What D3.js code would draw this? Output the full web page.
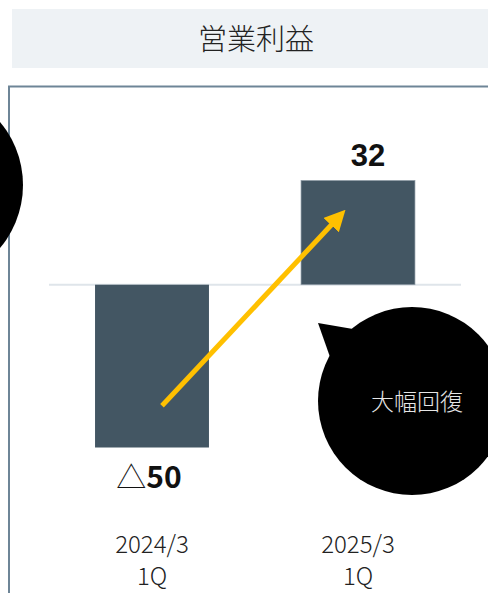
<!DOCTYPE html>
<html>
<head>
<meta charset="utf-8">
<script src="https://cdn.jsdelivr.net/npm/d3@7"></script>
<style>
  html, body { margin: 0; padding: 0; background: #fff; }
  svg { display: block; }
</style>
</head>
<body>
<div class="chart"></div>
<script>
// chart values
const title = "営業利益";
const categories = ["2024/3", "2025/3"];
const subLabels = ["1Q", "1Q"];
const values = [-50, 32];
const valueLabels = ["△50", "32"];
const bubbleText = "大幅回復";

const width = 488, height = 593;
const font = "'Noto Sans CJK JP', 'Noto Sans', sans-serif";
const numFont = "'Liberation Sans', Arial, sans-serif";

const svg = d3.select(".chart").append("svg")
  .attr("width", width)
  .attr("height", height);

// title band
svg.append("rect")
  .attr("x", 12).attr("y", 9)
  .attr("width", width).attr("height", 59)
  .attr("fill", "#eef2f5");
svg.append("text")
  .attr("x", 256).attr("y", 50)
  .attr("text-anchor", "middle")
  .attr("font-family", font)
  .attr("font-weight", 300)
  .attr("font-size", 29)
  .attr("fill", "#222")
  .text(title);

// frame
svg.append("path")
  .attr("d", "M9," + (height + 5) + "V86.5H" + (width + 5))
  .attr("fill", "none")
  .attr("stroke", "#6e8597")
  .attr("stroke-width", 2);

// scales
const x = d3.scaleBand()
  .domain(categories)
  .range([49, 461])
  .paddingInner(0.447)
  .paddingOuter(0.2235);

const y = d3.scaleLinear()
  .domain([-50, 32])
  .range([447.5, 180.5]);

// black circle on the left edge
svg.append("circle")
  .attr("cx", -75).attr("cy", 185).attr("r", 98)
  .attr("fill", "#000");

// zero line
svg.append("line")
  .attr("x1", 49).attr("x2", 461)
  .attr("y1", y(0)).attr("y2", y(0))
  .attr("stroke", "#dfe5ea")
  .attr("stroke-width", 2);

// bars
svg.selectAll("rect.bar")
  .data(values)
  .join("rect")
  .attr("class", "bar")
  .attr("x", (d, i) => x(categories[i]))
  .attr("width", x.bandwidth())
  .attr("y", d => y(Math.max(0, d)))
  .attr("height", d => Math.abs(y(d) - y(0)))
  .attr("fill", "#435663")
  .attr("stroke", (d, i) => i === 1 ? "#8e9ba5" : "none")
  .attr("stroke-width", 0.7);

// value labels
svg.selectAll("text.val")
  .data(values)
  .join("text")
  .attr("class", "val")
  .attr("x", (d, i) => x(categories[i]) + x.bandwidth() / 2 + (d < 0 ? -3 : 10))
  .attr("y", d => d < 0 ? y(d) + 40 : y(d) - 15)
  .attr("text-anchor", "middle")
  .attr("font-family", numFont)
  .attr("font-weight", 700)
  .attr("font-size", 31)
  .attr("fill", "#111")
  .each(function (d, i) {
    const t = d3.select(this);
    const lbl = valueLabels[i];
    if (lbl.startsWith("△")) {
      t.attr("font-size", 30);
      t.append("tspan").attr("font-family", font).attr("font-weight", 300).text("△");
      t.append("tspan").attr("font-family", font).text(lbl.slice(1));
    } else {
      t.text(lbl);
    }
  });

// category labels
const cat = svg.selectAll("g.cat")
  .data(categories)
  .join("g")
  .attr("class", "cat")
  .attr("transform", d => "translate(" + (x(d) + x.bandwidth() / 2) + ",0)");
cat.append("text")
  .attr("y", 553)
  .attr("text-anchor", "middle")
  .attr("font-family", font)
  .attr("font-weight", 300)
  .attr("font-size", 24)
  .attr("fill", "#222")
  .text(d => d);
cat.append("text")
  .attr("y", 585)
  .attr("text-anchor", "middle")
  .attr("font-family", font)
  .attr("font-weight", 300)
  .attr("font-size", 24)
  .attr("fill", "#222")
  .text((d, i) => subLabels[i]);

// arrow from first bar into second bar
const defs = svg.append("defs");
defs.append("marker")
  .attr("id", "head")
  .attr("viewBox", "0 0 10 10")
  .attr("refX", 5).attr("refY", 5)
  .attr("markerWidth", 4.2).attr("markerHeight", 4.2)
  .attr("orient", "auto")
  .append("path")
  .attr("d", "M0,0L10,5L0,10Z")
  .attr("fill", "#ffc000");

const x0 = x(categories[0]) + x.bandwidth() / 2 + 10;
const x1 = x(categories[1]) + x.bandwidth() * 0.38;
svg.append("line")
  .attr("x1", x0).attr("y1", y(-37.2))
  .attr("x2", x1 - 6).attr("y2", y(22.5) + 6)
  .attr("stroke", "#ffc000")
  .attr("stroke-width", 5)
  .attr("marker-end", "url(#head)");

// speech bubble
const bx = 412, by = 401, br = 94;
svg.append("path")
  .attr("d", "M353,329L318,323L330,357Z")
  .attr("fill", "#000");
svg.append("circle")
  .attr("cx", bx).attr("cy", by).attr("r", br)
  .attr("fill", "#000");
svg.append("text")
  .attr("x", 417).attr("y", 410)
  .attr("text-anchor", "middle")
  .attr("font-family", font)
  .attr("font-weight", 300)
  .attr("font-size", 23)
  .attr("fill", "#e6e6e6")
  .text(bubbleText);
</script>
</body>
</html>
